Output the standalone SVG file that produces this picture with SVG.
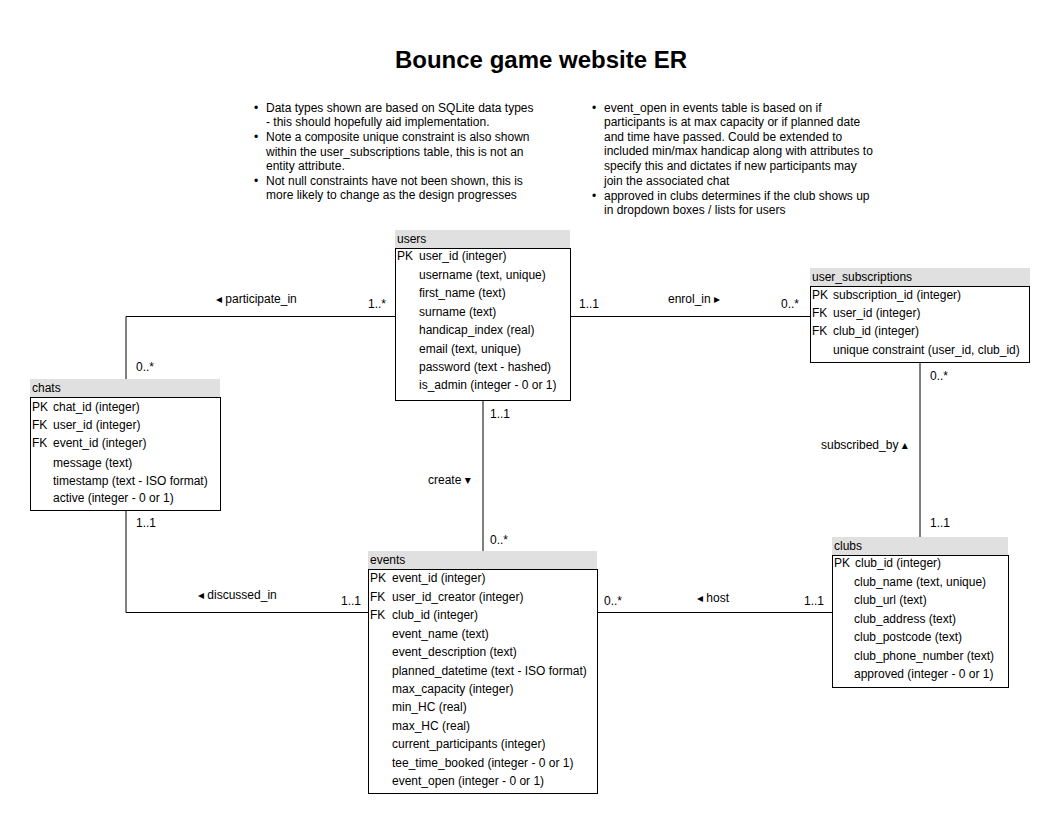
<svg xmlns="http://www.w3.org/2000/svg" width="1061" height="823" viewBox="0 0 1061 823">
<style>
text{font-family:"Liberation Sans","DejaVu Sans",Arial,sans-serif;font-size:12px;fill:#000}
.title{font-size:24px;font-weight:bold}
.hdr{fill:#e0e0e0;stroke:none}
.body{fill:#fff;stroke:#000;stroke-width:1}
.ln{fill:none;stroke:#000;stroke-width:1}
.note{font-size:12px;fill:#111}
</style>
<rect width="1061" height="823" fill="#fff"/>
<text class="title" x="541" y="68" text-anchor="middle">Bounce game website ER</text>

<g id="notes-left" class="note">
<text x="254" y="112">•</text>
<text x="266" y="112">Data types shown are based on SQLite data types</text>
<text x="266" y="126">- this should hopefully aid implementation.</text>
<text x="254" y="141">•</text>
<text x="266" y="141">Note a composite unique constraint is also shown</text>
<text x="266" y="156">within the user_subscriptions table, this is not an</text>
<text x="266" y="170">entity attribute.</text>
<text x="254" y="185">•</text>
<text x="266" y="185">Not null constraints have not been shown, this is</text>
<text x="266" y="199">more likely to change as the design progresses</text>
</g>
<g id="notes-right" class="note">
<text x="592" y="112">•</text>
<text x="604" y="112">event_open in events table is based on if</text>
<text x="604" y="126">participants is at max capacity or if planned date</text>
<text x="604" y="141">and time have passed. Could be extended to</text>
<text x="604" y="155">included min/max handicap along with attributes to</text>
<text x="604" y="170">specify this and dictates if new participants may</text>
<text x="604" y="185">join the associated chat</text>
<text x="592" y="200">•</text>
<text x="604" y="200">approved in clubs determines if the club shows up</text>
<text x="604" y="214">in dropdown boxes / lists for users</text>
</g>

<g id="connectors">
<path class="ln" d="M395 316.5H126V380"/>
<path class="ln" d="M570 316.5H810"/>
<path class="ln" d="M483 400V551"/>
<path class="ln" d="M920 362V537"/>
<path class="ln" d="M126 510V612.5H368"/>
<path class="ln" d="M597 612.5H832"/>
<text x="216" y="303">◂ participate_in</text>
<text x="368" y="308">1..*</text>
<text x="136" y="371">0..*</text>
<text x="579" y="308">1..1</text>
<text x="668" y="303">enrol_in ▸</text>
<text x="781" y="308">0..*</text>
<text x="490" y="418">1..1</text>
<text x="428" y="484">create ▾</text>
<text x="490" y="544">0..*</text>
<text x="930" y="380">0..*</text>
<text x="821" y="449">subscribed_by ▴</text>
<text x="930" y="527">1..1</text>
<text x="136" y="527">1..1</text>
<text x="198" y="599">◂ discussed_in</text>
<text x="341" y="605">1..1</text>
<text x="604" y="605">0..*</text>
<text x="697" y="602">◂ host</text>
<text x="804" y="605">1..1</text>
</g>

<g id="users">
<rect class="hdr" x="395" y="230" width="175" height="18"/>
<rect class="body" x="395.5" y="248.5" width="175" height="152"/>
<text x="397" y="243">users</text>
<text x="397" y="260">PK</text>
<text x="419" y="260">user_id (integer)</text>
<text x="419" y="279">username (text, unique)</text>
<text x="419" y="297">first_name (text)</text>
<text x="419" y="316">surname (text)</text>
<text x="419" y="334">handicap_index (real)</text>
<text x="419" y="353">email (text, unique)</text>
<text x="419" y="371">password (text - hashed)</text>
<text x="419" y="389">is_admin (integer - 0 or 1)</text>
</g>

<g id="user_subscriptions">
<rect class="hdr" x="810" y="268" width="220" height="18"/>
<rect class="body" x="810.5" y="286.5" width="219" height="76"/>
<text x="812" y="281">user_subscriptions</text>
<text x="812" y="299">PK</text>
<text x="833" y="299">subscription_id (integer)</text>
<text x="812" y="317">FK</text>
<text x="833" y="317">user_id (integer)</text>
<text x="812" y="335">FK</text>
<text x="833" y="335">club_id (integer)</text>
<text x="833" y="354">unique constraint (user_id, club_id)</text>
</g>

<g id="chats">
<rect class="hdr" x="30" y="379" width="190" height="18"/>
<rect class="body" x="30.5" y="397.5" width="190" height="113"/>
<text x="32" y="392">chats</text>
<text x="32" y="411">PK</text>
<text x="53" y="411">chat_id (integer)</text>
<text x="32" y="429">FK</text>
<text x="53" y="429">user_id (integer)</text>
<text x="32" y="447">FK</text>
<text x="53" y="447">event_id (integer)</text>
<text x="53" y="467">message (text)</text>
<text x="53" y="485">timestamp (text - ISO format)</text>
<text x="53" y="502">active (integer - 0 or 1)</text>
</g>

<g id="events">
<rect class="hdr" x="368" y="551" width="229" height="18"/>
<rect class="body" x="368.5" y="569.5" width="229" height="224"/>
<text x="370" y="564">events</text>
<text x="370" y="582">PK</text>
<text x="392" y="582">event_id (integer)</text>
<text x="370" y="601">FK</text>
<text x="392" y="601">user_id_creator (integer)</text>
<text x="370" y="619">FK</text>
<text x="392" y="619">club_id (integer)</text>
<text x="392" y="638">event_name (text)</text>
<text x="392" y="656">event_description (text)</text>
<text x="392" y="675">planned_datetime (text - ISO format)</text>
<text x="392" y="693">max_capacity (integer)</text>
<text x="392" y="711">min_HC (real)</text>
<text x="392" y="730">max_HC (real)</text>
<text x="392" y="748">current_participants (integer)</text>
<text x="392" y="767">tee_time_booked (integer - 0 or 1)</text>
<text x="392" y="785">event_open (integer - 0 or 1)</text>
</g>

<g id="clubs">
<rect class="hdr" x="832" y="537" width="176" height="18"/>
<rect class="body" x="832.5" y="555.5" width="176" height="132"/>
<text x="834" y="550">clubs</text>
<text x="834" y="567">PK</text>
<text x="855" y="567">club_id (integer)</text>
<text x="854" y="586">club_name (text, unique)</text>
<text x="854" y="604">club_url (text)</text>
<text x="854" y="623">club_address (text)</text>
<text x="854" y="641">club_postcode (text)</text>
<text x="854" y="660">club_phone_number (text)</text>
<text x="854" y="678">approved (integer - 0 or 1)</text>
</g>
</svg>
